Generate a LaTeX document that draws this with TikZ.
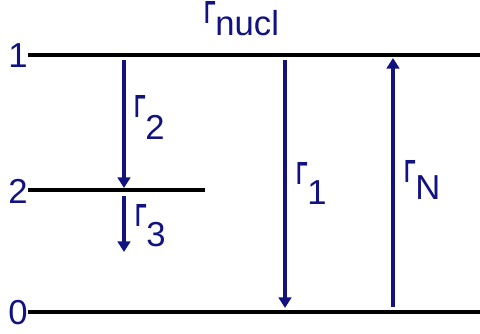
\documentclass[tikz,border=0pt]{standalone}
\usepackage{fontspec}
\setmainfont{Liberation Sans}
\usepackage{graphicx}
\usetikzlibrary{arrows.meta}
\definecolor{ratenavy}{RGB}{18,18,128}
\newcommand{\Gam}{{\fontsize{24}{28}\selectfont\scalebox{0.58}[1]{\bfseries Γ}}}

\begin{document}
\begin{tikzpicture}[x=0.75pt, y=-0.75pt,
    level/.style={line width=2.3pt, black},
    rate/.style={line width=2.3pt, ratenavy, -{Triangle[width=9.5pt,length=8pt]}},
    lab/.style={font=\fontsize{26}{30}\selectfont, text=ratenavy, inner sep=0pt}]
    \useasboundingbox (0,0) rectangle (480,334);

    % Energy levels
    \foreach \lvl/\ypos/\xend in {1/55/480, 2/190/205, 0/312/480} {
        \node[lab, anchor=east] (lvl\lvl) at (28,\ypos+1) {\lvl};
        \draw[level] (28,\ypos) -- (\xend,\ypos);
    }

    % Arrow end points
    \coordinate (g2top) at (124,60);
    \coordinate (g2bot) at (124,188);
    \coordinate (g3top) at (124,196);
    \coordinate (g3bot) at (124,252);
    \coordinate (g1top) at (285,60);
    \coordinate (g1bot) at (285,308);
    \coordinate (gNbot) at (393,307);
    \coordinate (gNtop) at (393,58);

    % Rates
    \draw[rate] (g2top) -- (g2bot);
    \draw[rate] (g3top) -- (g3bot);
    \draw[rate] (g1top) -- (g1bot);
    \draw[rate] (gNbot) -- (gNtop);

    % Labels
    \node[lab, anchor=base west, text height=16pt] (gnucl) at (204,24) {\Gam\raisebox{-9pt}{nucl}};
    \node[lab, anchor=base west] (g2) at (134,118) {\Gam\raisebox{-16.5pt}{2}};
    \node[lab, anchor=base west] (g3) at (135,227) {\Gam\raisebox{-15pt}{3}};
    \node[lab, anchor=base west] (g1) at (296,185) {\Gam\raisebox{-15pt}{1}};
    \node[lab, anchor=base west] (gN) at (404,183) {\Gam\raisebox{-12.75pt}{N}};
\end{tikzpicture}
\end{document}
